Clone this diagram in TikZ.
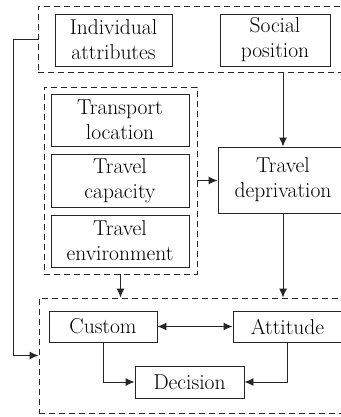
\documentclass[tikz,border=0pt]{standalone}
\usepackage{fontspec}
\usepackage{tikz}
\usetikzlibrary{arrows.meta, positioning}

\begin{document}
\begin{tikzpicture}[
    x=1pt, y=-1pt,
    box/.style={rectangle, draw=black!85, line width=0.95pt, inner sep=0pt, align=center, font=\fontsize{21.5}{25}\selectfont},
    group/.style={rectangle, draw=black!85, line width=0.95pt, dash pattern=on 6pt off 4pt, inner sep=0pt},
    arrow/.style={-{Latex[length=9pt,width=8pt]}, line width=0.95pt, draw=black!85},
    twoway/.style={{Latex[length=9pt,width=8pt]}-{Latex[length=9pt,width=8pt]}, line width=0.95pt, draw=black!85}
]
\useasboundingbox (0,0) rectangle (340,417);

% Groups
\node[group, minimum width=308pt, minimum height=66pt] (topgrp) at (192, 39) {};
\node[group, minimum width=153pt, minimum height=187pt] (midgrp) at (120.5, 180.5) {};
\node[group, minimum width=307pt, minimum height=115pt] (botgrp) at (192.5, 355.5) {};

% Top row
\node[box, minimum width=117pt, minimum height=52pt] (indiv) at (113.5, 40) {Individual\\attributes};
\node[box, minimum width=110pt, minimum height=52pt] (social) at (275, 40) {Social\\position};

% Transport factors
\node[box, minimum width=138pt, minimum height=52pt] (transloc) at (120, 120) {Transport\\location};
\node[box, minimum width=138pt, minimum height=53pt] (travcap) at (120, 180.5) {Travel\\capacity};
\node[box, minimum width=138pt, minimum height=52pt] (travenv) at (120, 241) {Travel\\environment};

\node[box, minimum width=130pt, minimum height=66pt] (deprive) at (283, 180) {Travel\\deprivation};

% Bottom row
\node[box, minimum width=108pt, minimum height=31pt] (custom) at (103, 326.5) {Custom};
\node[box, minimum width=109pt, minimum height=31pt] (attitude) at (287.5, 326.5) {Attitude};
\node[box, minimum width=109pt, minimum height=32pt] (decision) at (189.5, 382) {Decision};

% Connectors
\draw[arrow] (deprive.north |- topgrp.south) -- (deprive.north);
\draw[arrow] (midgrp.east) -- (midgrp.east -| deprive.west);
\draw[arrow] (midgrp.south) -- (midgrp.south |- botgrp.north);
\draw[arrow] (deprive.south) -- (deprive.south |- botgrp.north);
\draw[twoway] (custom.east) -- (attitude.west);
\draw[arrow] (custom.south) |- (decision.west);
\draw[arrow] (attitude.south) |- (decision.east);
\draw[arrow] (topgrp.west) -- ++(-24,0) |- (botgrp.west);

\end{tikzpicture}
\end{document}
